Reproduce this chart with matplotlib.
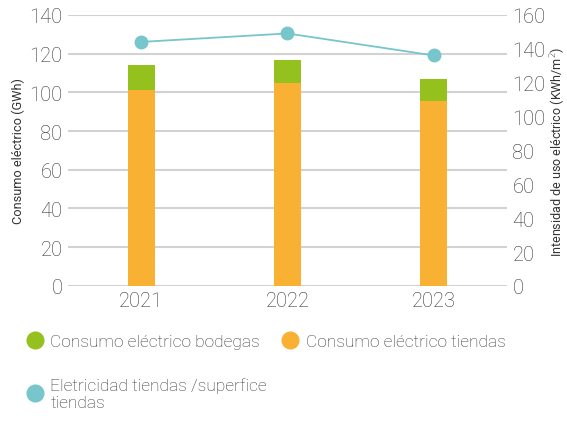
import numpy as np
import matplotlib.pyplot as plt
from matplotlib.lines import Line2D

plt.rcParams['font.family'] = ['Roboto', 'DejaVu Sans']
plt.rcParams['font.weight'] = 'light'

years = ['2021', '2022', '2023']
tiendas = [101, 105, 95.7]
bodegas = [13.2, 11.7, 11.2]
intensidad = [144, 149, 136]

green = '#95c11f'
orange = '#f8b133'
teal = '#76c6cc'
txt = '#333333'

fig = plt.figure(figsize=(5.67, 4.27), dpi=100)
ax = fig.add_axes([0.12, 0.328, 0.774, 0.635])
ax2 = ax.twinx()

x = np.arange(len(years))
ax.bar(x, tiendas, width=0.185, color=orange, zorder=3)
ax.bar(x, bodegas, width=0.185, bottom=tiendas, color=green, zorder=3)
ax2.plot(x, intensidad, color=teal, lw=1.3, marker='o', ms=9, zorder=4)

ax.set_xlim(-0.5, 2.5)
ax.set_ylim(0, 140)
ax.set_yticks(range(0, 141, 20))
ax2.set_ylim(0, 160)
ax2.set_yticks(range(0, 161, 20))
ax.set_xticks(x)
ax.set_xticklabels(years)

ax.yaxis.grid(True, color='#d2d2d2', lw=1.5, zorder=0)
ax.set_axisbelow(True)
for a in (ax, ax2):
    for s in a.spines.values():
        s.set_visible(False)
    a.tick_params(length=0, labelsize=14.5, colors=txt)
ax.tick_params(axis='y', pad=4)
ax.tick_params(axis='x', pad=4)
ax2.tick_params(axis='y', pad=4)

ax.set_ylabel('Consumo eléctrico (GWh)', fontsize=9.2, color=txt, labelpad=3)
ax2.set_ylabel('Intensidad de uso eléctrico (KWh/m$^2$)', fontsize=9, color=txt, labelpad=2)

handles = [
    Line2D([], [], ls='', marker='o', ms=12, color=green),
    Line2D([], [], ls='', marker='o', ms=12, color=teal),
    Line2D([], [], ls='', marker='o', ms=12, color=orange),
]
labels = ['Consumo eléctrico bodegas', 'Eletricidad tiendas /superfice\ntiendas', 'Consumo eléctrico tiendas']
fig.legend(handles, labels, ncol=2, loc='upper left', bbox_to_anchor=(0.035, 0.232),
           frameon=False, fontsize=12.5, labelcolor=txt, handlelength=0.9, handletextpad=0.45,
           columnspacing=0.9, labelspacing=1.6, borderaxespad=0)

fig.savefig('out.png', dpi=100)
